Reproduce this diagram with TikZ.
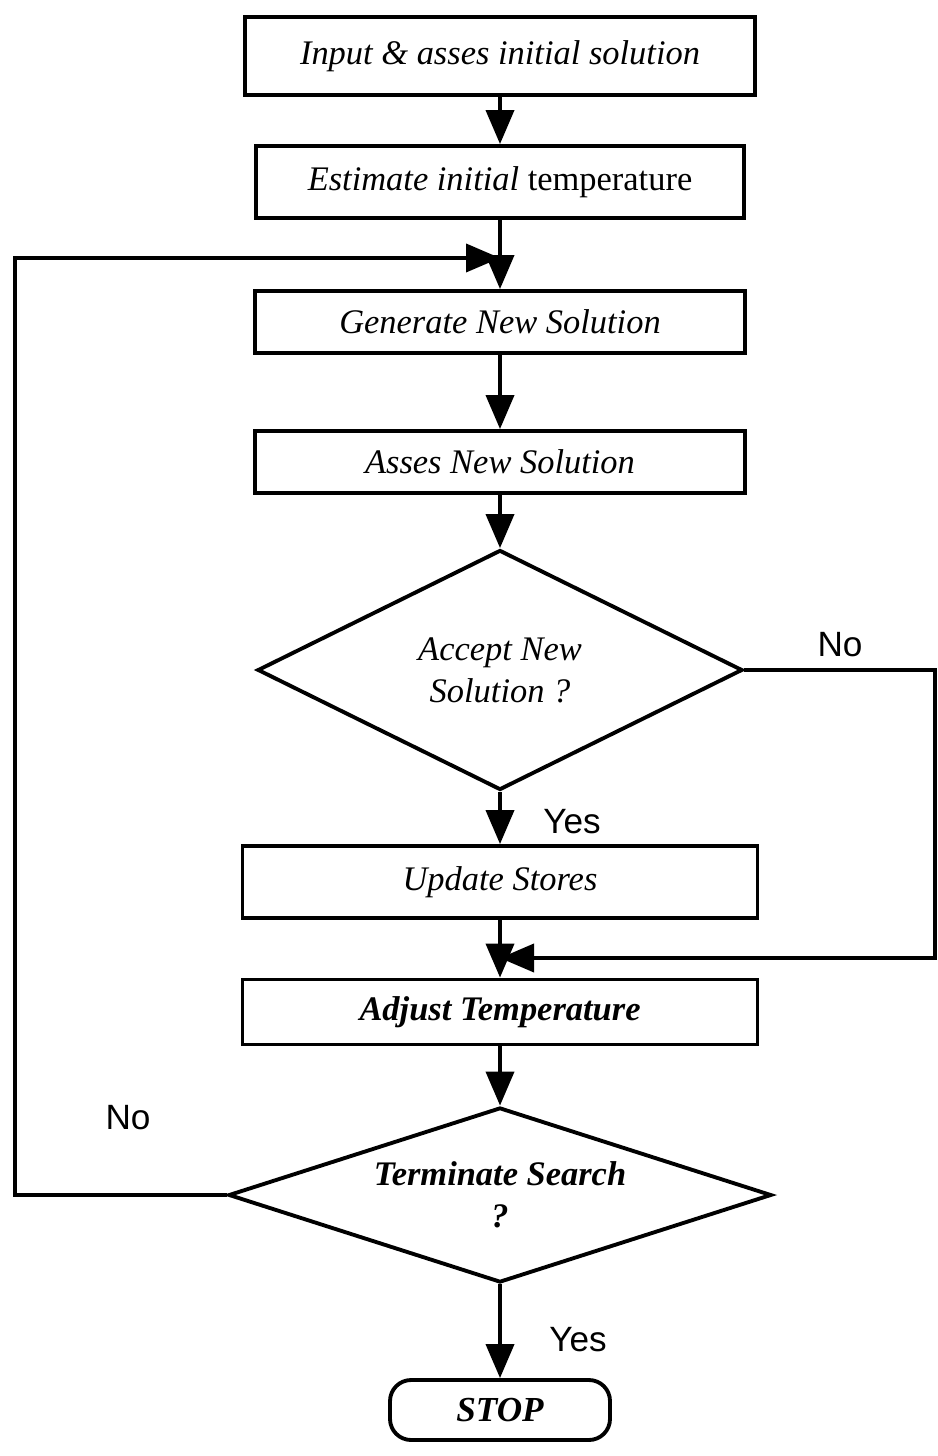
\documentclass[tikz,border=0pt]{standalone}
\usepackage{fontspec}
\setmainfont{Liberation Serif}
\newfontfamily\labfont{Liberation Sans}
\usepackage{tikz}
\usetikzlibrary{arrows.meta, positioning, shapes.geometric}

\begin{document}
\begin{tikzpicture}[line width=1.1pt, >={Triangle[length=0.34cm, width=0.28cm]},
    procbox/.style={rectangle, draw, minimum width=4.9cm, minimum height=0.62cm, font=\fontsize{9.8}{12}\selectfont\itshape},
    decision/.style={diamond, draw, align=center, inner sep=0pt, font=\fontsize{9.8}{12}\selectfont\itshape},
    stopbox/.style={rectangle, rounded corners=6pt, draw, minimum width=2.2cm, minimum height=0.6cm, font=\fontsize{10}{12}\selectfont\bfseries\itshape},
    lbl/.style={font=\labfont\fontsize{10}{12}\selectfont}]
            \useasboundingbox (0,0) rectangle (9.37,-14.56);

            \node[procbox, minimum width=5.1cm, minimum height=0.78cm] (input) at (5.0,-0.56) {Input \& asses initial solution};
            \node[procbox, minimum width=4.88cm, minimum height=0.72cm] (estimate) at (5.0,-1.82) {Estimate initial \upshape temperature};
            \node[procbox] (generate) at (5.0,-3.22) {Generate New Solution};
            \node[procbox] (assess) at (5.0,-4.62) {Asses New Solution};
            \node[decision, aspect=2, minimum width=4.85cm, minimum height=2.4cm] (accept) at (5.0,-6.70) {Accept New\\Solution ?};
            \node[procbox, minimum width=5.15cm, minimum height=0.72cm] (update) at (5.0,-8.82) {Update Stores};
            \node[procbox, minimum width=5.15cm, minimum height=0.65cm, font=\fontsize{9.8}{12}\selectfont\bfseries\itshape] (adjust) at (5.0,-10.12) {Adjust Temperature};
            \node[decision, aspect=3.1, minimum width=5.43cm, minimum height=1.75cm, font=\fontsize{9.8}{12}\selectfont\bfseries\itshape] (terminate) at (5.0,-11.95) {Terminate Search\\?};
            \node[stopbox] (stop) at (5.0,-14.10) {STOP};

            \coordinate (join1) at (5.0,-2.58);
            \coordinate (join2) at (5.0,-9.58);

            \node[lbl] (no1) at (8.4,-6.45) {No};
            \node[lbl] (yes1) at (5.72,-8.22) {Yes};
            \node[lbl] (no2) at (1.28,-11.18) {No};
            \node[lbl] (yes2) at (5.78,-13.40) {Yes};

            \draw[->] (input) -- (estimate);
            \draw[->] (estimate) -- (generate);
            \draw[->] (generate) -- (assess);
            \draw[->] (assess) -- (accept);
            \draw[->] (accept) -- (update);
            \draw[->] (update) -- (adjust);
            \draw[->] (adjust) -- (terminate);
            \draw[->] (terminate) -- (stop);
            \draw[->] (accept.east) -- (9.35,-6.70) |- (join2);
            \draw[->] (terminate.west) -- (0.15,-11.95) |- (join1);
        \end{tikzpicture}
\end{document}
